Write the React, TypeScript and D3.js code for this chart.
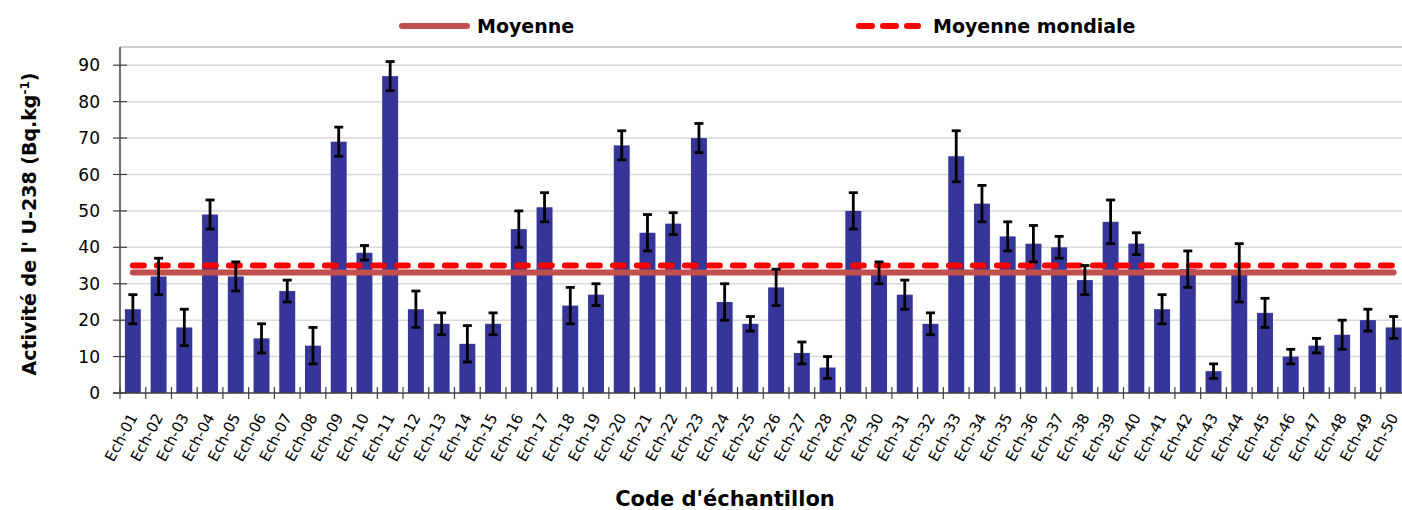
import React, { useEffect, useRef } from 'react'
import * as d3 from 'd3'

// sample codes Ech-01 .. Ech-50
const categories = [
  'Ech-01', 'Ech-02', 'Ech-03', 'Ech-04', 'Ech-05', 'Ech-06', 'Ech-07', 'Ech-08', 'Ech-09', 'Ech-10',
  'Ech-11', 'Ech-12', 'Ech-13', 'Ech-14', 'Ech-15', 'Ech-16', 'Ech-17', 'Ech-18', 'Ech-19', 'Ech-20',
  'Ech-21', 'Ech-22', 'Ech-23', 'Ech-24', 'Ech-25', 'Ech-26', 'Ech-27', 'Ech-28', 'Ech-29', 'Ech-30',
  'Ech-31', 'Ech-32', 'Ech-33', 'Ech-34', 'Ech-35', 'Ech-36', 'Ech-37', 'Ech-38', 'Ech-39', 'Ech-40',
  'Ech-41', 'Ech-42', 'Ech-43', 'Ech-44', 'Ech-45', 'Ech-46', 'Ech-47', 'Ech-48', 'Ech-49', 'Ech-50',
]

// U-238 activity (Bq/kg)
const activity = [
  23, 32, 18, 49, 32, 15, 28, 13, 69, 38.5,
  87, 23, 19, 13.5, 19, 45, 51, 24, 27, 68,
  44, 46.5, 70, 25, 19, 29, 11, 7, 50, 33,
  27, 19, 65, 52, 43, 41, 40, 31, 47, 41,
  23, 34, 6, 33, 22, 10, 13, 16, 20, 18,
]

// uncertainty (+/-)
const uncertainty = [
  4, 5, 5, 4, 4, 4, 3, 5, 4, 2,
  4, 5, 3, 5, 3, 5, 4, 5, 3, 4,
  5, 3, 4, 5, 2, 5, 3, 3, 5, 3,
  4, 3, 7, 5, 4, 5, 3, 4, 6, 3,
  4, 5, 2, 8, 4, 2, 2, 4, 3, 3,
]

const meanValue = 33.1
const worldMean = 35

const yTicks = [0, 10, 20, 30, 40, 50, 60, 70, 80, 90]

export default function App() {
  const ref = useRef<SVGSVGElement>(null)

  useEffect(() => {
    const svg = d3.select(ref.current)
    svg.selectAll('*').remove()

    const left = 120, right = 1406.5, top = 47, bottom = 393

    const x = d3.scaleBand<string>().domain(categories).range([left, right]).paddingInner(0.38).paddingOuter(0.19)
    const xb = d3.scaleBand<string>().domain(categories).range([left, right])
    const y = d3.scaleLinear().domain([0, 95]).range([bottom, top])

    const font = "'DejaVu Sans', Verdana, sans-serif"

    // grid
    svg.append('g')
      .selectAll('line')
      .data(yTicks.slice(1))
      .enter().append('line')
      .attr('x1', left).attr('x2', right)
      .attr('y1', d => y(d)).attr('y2', d => y(d))
      .style('stroke', '#d9d9d9').style('stroke-width', 1.5)
    svg.append('line')
      .attr('x1', left).attr('x2', right).attr('y1', top).attr('y2', top)
      .style('stroke', '#bfbfbf').style('stroke-width', 1.5)

    // bars
    const center = (c: string) => (xb(c) as number) + xb.bandwidth() / 2
    svg.append('g')
      .selectAll('rect')
      .data(categories)
      .enter().append('rect')
      .attr('x', c => center(c) - x.bandwidth() / 2)
      .attr('width', x.bandwidth())
      .attr('y', (c, i) => y(activity[i]))
      .attr('height', (c, i) => bottom - y(activity[i]))
      .style('fill', '#36369a')

    // mean lines, first to last category
    const line = d3.line<number>().x((d, i) => center(categories[i === 0 ? 0 : categories.length - 1])).y(d => y(d))
    svg.append('path')
      .attr('d', line([meanValue, meanValue]))
      .style('stroke', '#c0504d').style('stroke-width', 6).style('fill', 'none').style('stroke-linecap', 'round')
    svg.append('path')
      .attr('d', line([worldMean, worldMean]))
      .style('stroke', '#ff0000').style('stroke-width', 6).style('fill', 'none')
      .style('stroke-linecap', 'round').style('stroke-dasharray', '11 13')

    // error bars
    const eb = svg.append('g').style('stroke', '#000').style('stroke-width', 2.8)
    categories.forEach((c, i) => {
      const cx = center(c)
      const hi = y(activity[i] + uncertainty[i]), lo = y(activity[i] - uncertainty[i])
      eb.append('line').attr('x1', cx).attr('x2', cx).attr('y1', hi).attr('y2', lo)
      eb.append('line').attr('x1', cx - 4.5).attr('x2', cx + 4.5).attr('y1', hi).attr('y2', hi)
      eb.append('line').attr('x1', cx - 4.5).attr('x2', cx + 4.5).attr('y1', lo).attr('y2', lo)
    })

    // axes
    svg.append('line').attr('x1', left).attr('x2', left).attr('y1', top).attr('y2', bottom + 0.5)
      .style('stroke', '#404040').style('stroke-width', 1.5)
    svg.append('line').attr('x1', left - 7).attr('x2', right).attr('y1', bottom).attr('y2', bottom)
      .style('stroke', '#404040').style('stroke-width', 1.5)

    svg.append('g').selectAll('line').data(yTicks).enter().append('line')
      .attr('x1', left - 7).attr('x2', left + 7).attr('y1', d => y(d)).attr('y2', d => y(d))
      .style('stroke', '#404040').style('stroke-width', 1.2)
    svg.append('g').selectAll('text').data(yTicks).enter().append('text')
      .attr('x', 100).attr('y', d => y(d)).attr('dy', '0.36em')
      .attr('text-anchor', 'end')
      .style('font-family', font).style('font-size', '17px').style('fill', '#000')
      .text(d => d)

    svg.append('g').selectAll('line').data(d3.range(categories.length + 1)).enter().append('line')
      .attr('x1', k => left + k * xb.step()).attr('x2', k => left + k * xb.step())
      .attr('y1', bottom - 6).attr('y2', bottom + 6)
      .style('stroke', '#404040').style('stroke-width', 1.2)

    svg.append('g').selectAll('text').data(categories).enter().append('text')
      .attr('transform', c => `translate(${center(c) + 5},${bottom + 24}) rotate(-62)`)
      .attr('text-anchor', 'end')
      .style('font-family', font).style('font-size', '15px').style('fill', '#000')
      .text(c => c)

    // axis titles
    svg.append('text')
      .attr('x', 725).attr('y', 506)
      .attr('text-anchor', 'middle')
      .style('font-family', font).style('font-size', '21px').style('font-weight', 'bold')
      .text("Code d'échantillon")

    const yt = svg.append('text')
      .attr('transform', 'translate(36,224) rotate(-90)')
      .attr('text-anchor', 'middle')
      .style('font-family', font).style('font-size', '19px').style('font-weight', 'bold')
    yt.append('tspan').text("Activité de l' U-238 (Bq.kg")
    yt.append('tspan').attr('dy', -7).style('font-size', '12px').text('-1')
    yt.append('tspan').attr('dy', 7).text(')')

    // legend
    svg.append('line').attr('x1', 402).attr('x2', 467).attr('y1', 26).attr('y2', 26)
      .style('stroke', '#c0504d').style('stroke-width', 6).style('stroke-linecap', 'round')
    svg.append('text').attr('x', 477).attr('y', 33)
      .style('font-family', font).style('font-size', '19px').style('font-weight', 'bold')
      .text('Moyenne')
    svg.append('line').attr('x1', 859).attr('x2', 918).attr('y1', 26).attr('y2', 26)
      .style('stroke', '#ff0000').style('stroke-width', 6).style('stroke-linecap', 'round')
      .style('stroke-dasharray', '13 11')
    svg.append('text').attr('x', 933).attr('y', 33)
      .style('font-family', font).style('font-size', '19px').style('font-weight', 'bold')
      .text('Moyenne mondiale')
  }, [])

  return (
    <svg ref={ref} width={1402} height={510}
      style={{ position: 'absolute', left: 0, top: 0, background: '#fff' }} />
  )
}
